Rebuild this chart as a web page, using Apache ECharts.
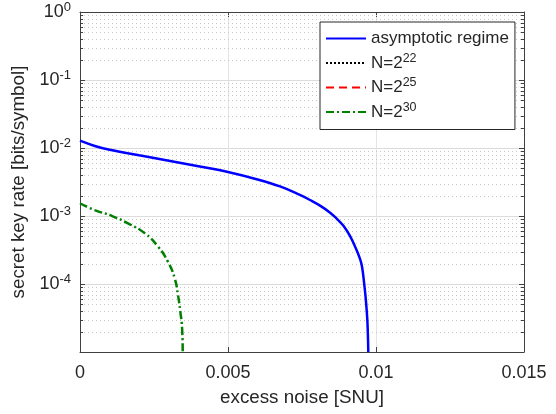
<!DOCTYPE html>
<html>
<head>
<meta charset="utf-8">
<script src="https://cdn.jsdelivr.net/npm/echarts@6/dist/echarts.min.js"></script>
<style>
  html, body { margin: 0; padding: 0; background: #fff; }
  #chart { width: 556px; height: 414px; }
</style>
</head>
<body>
<div id="chart"></div>
<script>
// values
const seriesNames = ["asymptotic regime", "N=2^22", "N=2^25", "N=2^30"];

const asymptoticX = [0, 0.0005, 0.001, 0.002, 0.003, 0.004, 0.005, 0.006, 0.00676, 0.00743, 0.00777, 0.00811, 0.00845, 0.00867, 0.0089, 0.00912, 0.00929, 0.00946, 0.00953, 0.00959, 0.00966, 0.00971, 0.00974];
const asymptoticY = [1.28e-2, 1.07e-2, 9.4e-3, 7.8e-3, 6.5e-3, 5.4e-3, 4.45e-3, 3.45e-3, 2.72e-3, 2.04e-3, 1.72e-3, 1.42e-3, 1.12e-3, 9.16e-4, 7.18e-4, 5.09e-4, 3.57e-4, 2.34e-4, 1.78e-4, 1.11e-4, 5.64e-5, 2.79e-5, 1e-5];

const n22X = [];
const n22Y = [];
const n25X = [];
const n25Y = [];

const n30X = [0, 0.0005, 0.00106, 0.00162, 0.00219, 0.00264, 0.00297, 0.0032, 0.00331, 0.00339, 0.00345, 0.00347];
const n30Y = [1.54e-3, 1.22e-3, 1.01e-3, 7.8e-4, 5.56e-4, 3.53e-4, 2.13e-4, 1.21e-4, 6.9e-5, 3.9e-5, 2.2e-5, 1e-5];

const xTicks = [0, 0.005, 0.01, 0.015];
const xTickLabels = ["0", "0.005", "0.01", "0.015"];
const yDecades = [-5, -4, -3, -2, -1];
const minorMantissas = [2, 3, 4, 5, 6, 7, 8, 9];

const FONT = "'Liberation Sans', Arial, Helvetica, sans-serif";
const AXIS_COLOR = "#404040";
const TEXT_COLOR = "#262626";

function zip(xs, ys) {
  return xs.map((x, i) => [x, ys[i]]);
}

const minorValues = [];
yDecades.forEach((d) => {
  minorMantissas.forEach((m) => {
    minorValues.push([0, m * Math.pow(10, d)]);
  });
});

function yLabel(value) {
  const exp = Math.round(Math.log10(value));
  if (exp <= -5) {
    return "";
  }
  return "{b|10}{s|" + exp + "}";
}

function xLabel(value) {
  const idx = xTicks.findIndex((t) => Math.abs(t - value) < 1e-9);
  return idx >= 0 ? xTickLabels[idx] : "";
}

function legendLabel(name) {
  const m = name.match(/^N=2\^(\d+)$/);
  if (m) {
    return "{t|N=2}{s|" + m[1] + "}";
  }
  return "{t|" + name + "}";
}

const chart = echarts.init(document.getElementById("chart"));

const tickRich = {
  b: { fontSize: 18, fontFamily: FONT, color: TEXT_COLOR },
  s: { fontSize: 13, fontFamily: FONT, color: TEXT_COLOR, verticalAlign: "bottom", padding: [0, 0, 10, 0] }
};

chart.setOption({
  backgroundColor: "#fff",
  animation: false,
  grid: { left: 80, right: 32, top: 12, bottom: 62 },
  legend: {
    orient: "vertical",
    left: 320,
    top: 22,
    width: 193,
    padding: [8, 6, 9, 5],
    itemWidth: 40,
    itemHeight: 14,
    itemGap: 5,
    backgroundColor: "#fff",
    borderColor: "#262626",
    borderWidth: 1,
    itemStyle: { opacity: 0 },
    data: seriesNames,
    formatter: legendLabel,
    textStyle: {
      color: TEXT_COLOR,
      fontFamily: FONT,
      rich: {
        t: { fontSize: 17, fontFamily: FONT, color: TEXT_COLOR },
        s: { fontSize: 12.5, fontFamily: FONT, color: TEXT_COLOR, verticalAlign: "bottom", padding: [0, 0, 9, 0] }
      }
    }
  },
  xAxis: [
    {
      type: "value",
      min: 0,
      max: 0.015,
      interval: 0.005,
      name: "excess noise [SNU]",
      nameLocation: "middle",
      nameGap: 36,
      nameTextStyle: { fontSize: 18.8, fontFamily: FONT, color: TEXT_COLOR },
      axisLine: { onZero: false, lineStyle: { color: AXIS_COLOR, width: 1 } },
      axisTick: { inside: true, length: 5, lineStyle: { color: AXIS_COLOR } },
      axisLabel: { formatter: xLabel, fontSize: 18, fontFamily: FONT, color: TEXT_COLOR, margin: 12, showMaxLabel: true },
      splitLine: { show: true, lineStyle: { color: "#e4e4e4", width: 1 } }
    },
    {
      type: "value",
      position: "top",
      min: 0,
      max: 0.015,
      interval: 0.005,
      axisLine: { onZero: false, lineStyle: { color: AXIS_COLOR, width: 1 } },
      axisTick: { inside: true, length: 5, lineStyle: { color: AXIS_COLOR } },
      axisLabel: { show: false },
      splitLine: { show: false }
    }
  ],
  yAxis: [
    {
      type: "log",
      logBase: 10,
      min: 1e-5,
      max: 1,
      name: "secret key rate [bits/symbol]",
      nameLocation: "middle",
      nameGap: 49,
      nameTextStyle: { fontSize: 18.8, fontFamily: FONT, color: TEXT_COLOR },
      axisLine: { onZero: false, lineStyle: { color: AXIS_COLOR, width: 1 } },
      axisTick: { inside: true, length: 5, lineStyle: { color: AXIS_COLOR } },
      axisLabel: { formatter: yLabel, margin: 9, rich: tickRich },
      splitLine: { show: true, lineStyle: { color: "#dcdcdc", width: 1 } }
    },
    {
      type: "log",
      logBase: 10,
      position: "right",
      min: 1e-5,
      max: 1,
      axisLine: { onZero: false, lineStyle: { color: AXIS_COLOR, width: 1 } },
      axisTick: { inside: true, length: 5, lineStyle: { color: AXIS_COLOR } },
      axisLabel: { show: false },
      splitLine: { show: false }
    }
  ],
  series: [
    {
      name: "minor",
      type: "custom",
      silent: true,
      z: 1,
      xAxisIndex: 0,
      yAxisIndex: 0,
      data: minorValues,
      renderItem(params, api) {
        const cs = params.coordSys;
        const y = Math.round(api.coord([0, api.value(1)])[1]) + 0.5;
        const stroke = { stroke: AXIS_COLOR, lineWidth: 1 };
        return {
          type: "group",
          children: [
            {
              type: "line",
              shape: { x1: cs.x, y1: y, x2: cs.x + cs.width, y2: y },
              style: { stroke: "#c8c8c8", lineWidth: 1, lineDash: [1, 3] }
            },
            { type: "line", shape: { x1: cs.x, y1: y, x2: cs.x + 3, y2: y }, style: stroke },
            { type: "line", shape: { x1: cs.x + cs.width - 3, y1: y, x2: cs.x + cs.width, y2: y }, style: stroke }
          ]
        };
      }
    },
    {
      name: seriesNames[0],
      type: "line",
      data: zip(asymptoticX, asymptoticY),
      smooth: 0.4,
      symbol: "none",
      z: 5,
      lineStyle: { color: "#0000ff", width: 2.5 },
      itemStyle: { color: "#0000ff" }
    },
    {
      name: seriesNames[1],
      type: "line",
      data: zip(n22X, n22Y),
      symbol: "none",
      z: 4,
      lineStyle: { color: "#000000", width: 2, type: [2, 2] },
      itemStyle: { color: "#000000" }
    },
    {
      name: seriesNames[2],
      type: "line",
      data: zip(n25X, n25Y),
      symbol: "none",
      z: 4,
      lineStyle: { color: "#ff0000", width: 2.5, type: [8, 5] },
      itemStyle: { color: "#ff0000" }
    },
    {
      name: seriesNames[3],
      type: "line",
      data: zip(n30X, n30Y),
      smooth: 0.5,
      symbol: "none",
      z: 4,
      lineStyle: { color: "#007f00", width: 2.5, type: [8, 3, 2, 3] },
      itemStyle: { color: "#007f00" }
    }
  ]
});
</script>
</body>
</html>
